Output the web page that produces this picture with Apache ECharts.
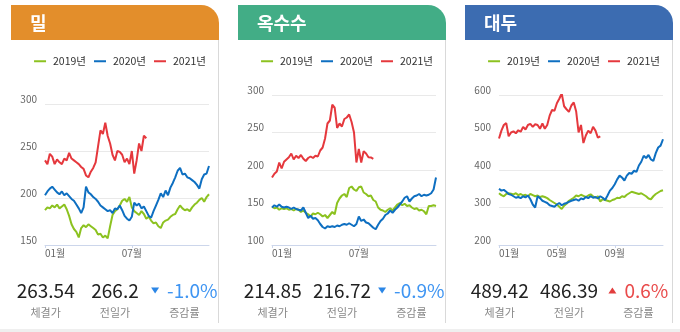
<!DOCTYPE html>
<html>
<head>
<meta charset="utf-8">
<script src="https://cdn.jsdelivr.net/npm/echarts@6/dist/echarts.min.js"></script>
<style>
  html, body { margin: 0; padding: 0; background: #ffffff; }
  #chart { width: 680px; height: 332px; }
</style>
</head>
<body>
<div id="chart"></div>
<script>
// Series names shown in each legend
const seriesNames = ['2019년', '2020년', '2021년'];
const seriesColors = ['#8cc220', '#0e6fc1', '#e5383d'];

// Wheat (밀) prices, sampled every 5 days from early January
const wheat2019 = [187,190,189,192,190,193,189,191,193,188,181,172,167,164,158,168,171,169,172,170,168,166,161,162,158,160,157,170,182,186,188,192,197,199,196,201,190,186,184,182,186,183,178,180,176,173,174,170,168,174,176,177,180,182,183,188,192,189,187,188,186,190,193,195,198,200,196,201,204];
const wheat2020 = [203,207,210,212,209,206,204,207,203,205,202,199,197,193,189,184,190,212,206,204,201,199,196,192,190,188,186,187,184,189,188,192,187,181,178,176,180,195,192,194,189,191,186,181,179,186,192,198,205,201,208,203,211,216,222,229,232,225,226,222,221,219,217,214,210,220,225,226,234];
const wheat2021 = [240,236,247,244,236,241,238,236,242,240,248,242,240,238,236,233,231,224,222,228,232,238,255,272,268,280,266,258,246,240,250,249,246,238,242,236,250,226,240,258,250,266.2,263.54];

// Corn (옥수수) prices
const corn2019 = [151,149,150,147,149,148,149,147,148,146,148,147,144,146,143,141,138,142,141,143,141,138,140,136,140,144,141,156,162,166,168,164,176,178,174,172,177,178,170,168,165,166,160,158,150,147,146,144,147,149,146,150,154,156,153,155,152,153,150,148,149,146,147,145,141,152,152,153,152];
const corn2020 = [150,153,151,154,151,150,151,150,148,150,148,147,146,150,143,136,139,135,136,133,128,124,122,125,124,125,124,126,125,127,128,127,129,127,125,128,138,132,134,130,129,126,123,121,127,132,135,140,142,146,143,147,150,154,158,163,165,158,162,165,166,168,165,167,166,167,169,174,190];
const corn2021 = [190,195,198,210,202,211,214,217,222,214,219,216,220,215,212,216,218,216,219,218,226,230,242,262,266,287,283,256,262,258,268,270,274,264,250,210,228,210,225,222,217,216.72,214.85];

// Soybean (대두) prices
const soy2019 = [338,333,330,336,338,337,335,338,333,336,332,334,330,336,333,330,332,328,330,328,325,320,316,312,308,302,296,305,310,318,322,326,332,330,334,331,328,332,335,330,326,330,316,322,320,318,316,320,322,326,325,330,328,334,338,342,340,338,336,338,334,330,324,322,330,336,340,344,346];
const soy2020 = [350,345,347,342,336,334,330,326,328,325,330,327,332,322,308,300,330,325,318,315,312,306,304,302,308,312,306,310,312,315,318,320,322,318,324,322,328,325,330,326,328,324,330,326,320,332,345,352,362,375,385,380,372,385,392,390,398,395,412,422,438,432,440,428,424,445,460,465,482];
const soy2021 = [484,505,520,525,490,500,503,498,506,502,515,508,520,523,515,522,520,510,524,510,520,545,560,558,578,590,604,570,562,555,572,580,556,500,520,472,492,505,498,515,505,486.39,489.42];

// Quote figures under each chart
const titles = ['밀', '옥수수', '대두'];
const closePrices = [263.54, 214.85, 489.42];
const prevPrices = [266.2, 216.72, 486.39];
const statLabels = ['체결가', '전일가', '증감률'];

// Month ticks shown on each x axis
const tickMonths = [['01', '07'], ['01', '07'], ['01', '05', '09']];

// Y axis ranges
const yRanges = [
  { min: 150, max: 300, interval: 50 },
  { min: 100, max: 300, interval: 50 },
  { min: 200, max: 600, interval: 100 }
];

// Category dates: one point every 5 days starting Jan 2
const STEP = 5;
const POINTS = wheat2019.length;
const categories = [];
for (let i = 0; i < POINTS; i++) {
  const d = new Date(Date.UTC(2019, 0, 2 + i * STEP));
  const mm = String(d.getUTCMonth() + 1).padStart(2, '0');
  const dd = String(d.getUTCDate()).padStart(2, '0');
  categories.push(mm + '-' + dd);
}
// index of the point closest to the first day of a month
function monthIndex(mm) {
  const first = Date.UTC(2019, Number(mm) - 1, 1);
  let best = 0, bestDist = Infinity;
  categories.forEach((c, i) => {
    const t = Date.UTC(2019, 0, 2 + i * STEP);
    const dist = Math.abs(t - first);
    if (dist < bestDist) { bestDist = dist; best = i; }
  });
  return best;
}

const panelData = [
  [wheat2019, wheat2020, wheat2021],
  [corn2019, corn2020, corn2021],
  [soy2019, soy2020, soy2021]
];
const headerColors = ['#e38e2b', '#42ad86', '#3c6cb1'];

const FONT = '"Noto Sans CJK KR", "Noto Sans", sans-serif';
const PANEL_W = 208;
const panelLeft = k => 11 + k * 227;

const measureCtx = document.createElement('canvas').getContext('2d');
function textWidth(t, font) {
  measureCtx.font = font;
  return measureCtx.measureText(t).width;
}

const LEGEND_FS = 10.5;
const LEGEND_ICON = 12, LEGEND_TXT_GAP = 7, LEGEND_ITEM_GAP = 8;
const legendWidth = seriesNames.reduce((w, n) =>
  w + LEGEND_ICON + LEGEND_TXT_GAP + textWidth(n, LEGEND_FS + 'px ' + FONT), 0) + LEGEND_ITEM_GAP * (seriesNames.length - 1);

const grids = [], xAxes = [], yAxes = [], series = [], legends = [], graphics = [];

graphics.push({ type: 'rect', shape: { x: 0, y: 329, width: 680, height: 3 }, style: { fill: '#efefef' } });

for (let k = 0; k < 3; k++) {
  const L = panelLeft(k);
  const gTop = k === 0 ? 104 : 95;
  grids.push({ left: L + 34, top: gTop, width: 164, height: 245 - gTop });

  const idx = tickMonths[k].map(monthIndex);
  const labelAt = {};
  idx.forEach((i, j) => { labelAt[i] = tickMonths[k][j] + '월'; });
  xAxes.push({
    type: 'category', gridIndex: k, data: categories, boundaryGap: false,
    axisLine: { lineStyle: { color: '#ccd6eb', width: 1 } },
    axisTick: { show: true, length: 3, interval: i => i in labelAt, lineStyle: { color: '#ccd6eb' } },
    axisLabel: {
      interval: i => i in labelAt,
      formatter: (v, i) => labelAt[i] || '',
      color: '#666666', fontSize: 10, fontFamily: FONT, margin: 3,
      alignMinLabel: 'left'
    },
    splitLine: { show: false }
  });
  yAxes.push({
    type: 'value', gridIndex: k,
    min: yRanges[k].min, max: yRanges[k].max, interval: yRanges[k].interval,
    axisLine: { show: false }, axisTick: { show: false },
    axisLabel: { color: '#666666', fontSize: 10, fontFamily: FONT, margin: 8, verticalAlign: 'bottom', lineHeight: 10 },
    splitLine: { lineStyle: { color: '#e9e9e9', width: 1 } }
  });

  panelData[k].forEach((vals, s) => {
    series.push({
      type: 'line', name: seriesNames[s], xAxisIndex: k, yAxisIndex: k,
      data: vals, showSymbol: false, symbol: 'none', smooth: false,
      lineStyle: { color: seriesColors[s], width: 2 },
      itemStyle: { color: seriesColors[s] },
      z: 2 + (s === 1 ? 1 : 0)
    });
  });

  legends.push({
    data: seriesNames.map(n => ({ name: n, icon: 'rect' })),
    left: L + PANEL_W / 2 - legendWidth / 2, top: 51,
    itemWidth: LEGEND_ICON, itemHeight: 2, itemGap: LEGEND_ITEM_GAP,
    selectedMode: false,
    textStyle: { color: '#333333', fontSize: LEGEND_FS, fontFamily: FONT, padding: [0, 0, 0, LEGEND_TXT_GAP - 5] }
  });

  // header
  graphics.push({
    type: 'rect', shape: { x: L, y: 5, width: PANEL_W, height: 35, r: [0, 18, 0, 0] },
    style: { fill: headerColors[k] }
  });
  graphics.push({
    type: 'text', style: {
      text: titles[k], x: L + 19, y: 23, fill: '#ffffff',
      font: 'bold 18px ' + FONT, align: 'left', verticalAlign: 'middle'
    }
  });
  // right edge shadow line
  graphics.push({
    type: 'line', shape: { x1: L + 207.5, y1: 40, x2: L + 207.5, y2: 323 },
    style: { stroke: '#d9d9d9', lineWidth: 1 }
  });

  // quote row
  const colC = j => L + PANEL_W * (j + 0.5) / 3;
  const numFont = '19px ' + FONT;
  graphics.push({ type: 'text', style: { text: String(closePrices[k]), x: colC(0), y: 291, fill: '#222222', font: numFont, align: 'center', verticalAlign: 'middle' } });
  graphics.push({ type: 'text', style: { text: String(prevPrices[k]), x: colC(1), y: 291, fill: '#222222', font: numFont, align: 'center', verticalAlign: 'middle' } });

  const pct = (closePrices[k] - prevPrices[k]) / prevPrices[k] * 100;
  const up = pct >= 0;
  const pctText = (up ? '' : '-') + Math.abs(pct).toFixed(1) + '%';
  const tw = textWidth(pctText, numFont);
  const groupW = 8 + 8 + tw;
  const gx = colC(2) - groupW / 2;
  const ty = 290.5;
  graphics.push({
    type: 'polygon',
    shape: { points: up ? [[gx, ty + 3], [gx + 8, ty + 3], [gx + 4, ty - 3]] : [[gx, ty - 3], [gx + 8, ty - 3], [gx + 4, ty + 3]] },
    style: { fill: up ? '#e23d3d' : '#2b86e6' }
  });
  graphics.push({ type: 'text', style: { text: pctText, x: gx + 16, y: 291, fill: up ? '#e94b4b' : '#3f95f2', font: numFont, align: 'left', verticalAlign: 'middle' } });

  statLabels.forEach((t, j) => {
    graphics.push({ type: 'text', style: { text: t, x: colC(j), y: 313, fill: '#888888', font: '11px ' + FONT, align: 'center', verticalAlign: 'middle' } });
  });
}

const chart = echarts.init(document.getElementById('chart'), null, { renderer: 'canvas' });
chart.setOption({
  animation: false,
  backgroundColor: '#ffffff',
  grid: grids, xAxis: xAxes, yAxis: yAxes, series: series, legend: legends,
  graphic: graphics
});
</script>
</body>
</html>
